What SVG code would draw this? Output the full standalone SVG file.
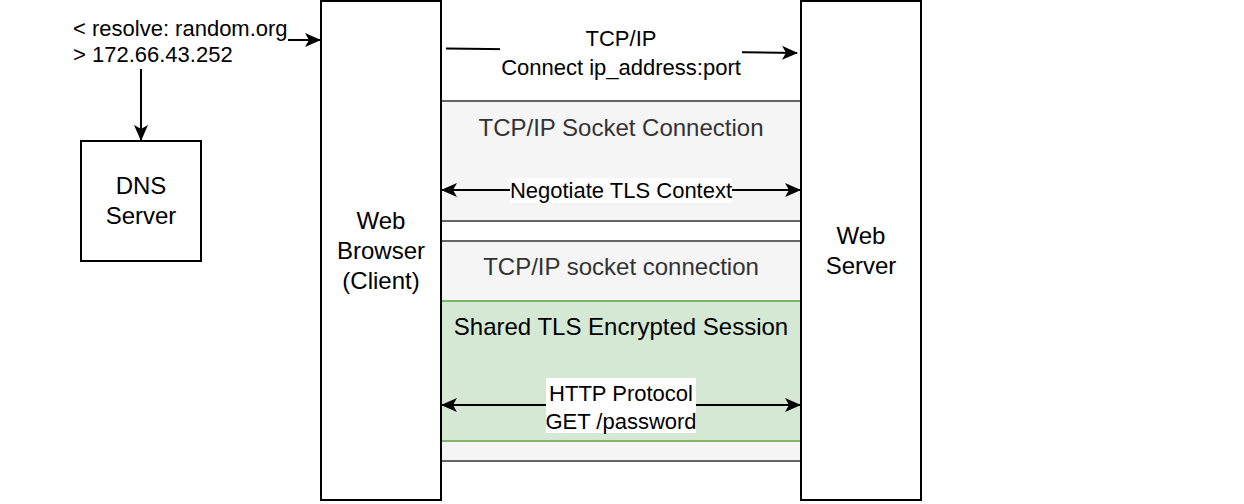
<svg xmlns="http://www.w3.org/2000/svg" width="1244" height="504" viewBox="0 0 1244 504">
<style>
.box{fill:#fff;stroke:#000;stroke-width:2}
.panel{fill:#f5f5f5;stroke:#666;stroke-width:2}
.green{fill:#d5e8d4;stroke:#82b366;stroke-width:2}
.t{font-family:"Liberation Sans",Arial,Helvetica,sans-serif;font-size:24px;fill:#000;text-anchor:middle}
.e{font-size:22px}
.g{fill:#333}
.conn{stroke:#000;stroke-width:2;fill:none}
.lbg{fill:#fff}
</style>
<defs>
<marker id="arr" markerUnits="userSpaceOnUse" markerWidth="16" markerHeight="14" refX="15" refY="7" orient="auto-start-reverse" viewBox="0 0 16 14">
<path d="M0,0 L16,7 L0,14 L4,7 Z" fill="#000"/>
</marker>
</defs>
<rect width="1244" height="504" fill="#fff"/>
<g id="socket-panel">
<rect class="panel" x="441" y="101" width="360" height="120"/>
<text class="t g" x="621" y="136">TCP/IP Socket Connection</text>
</g>
<g id="socket-panel-2">
<rect class="panel" x="441" y="241" width="360" height="220"/>
<text class="t g" x="621" y="275">TCP/IP socket connection</text>
</g>
<g id="tls-session">
<rect class="green" x="441" y="301" width="360" height="140"/>
<text class="t" x="621" y="335">Shared TLS Encrypted Session</text>
</g>
<g id="dns-server">
<rect class="box" x="81" y="141" width="120" height="120"/>
<text class="t" x="141" y="194">DNS</text>
<text class="t" x="141" y="224">Server</text>
</g>
<g id="web-browser">
<rect class="box" x="321" y="1" width="120" height="499"/>
<text class="t" x="381" y="229">Web</text>
<text class="t" x="381" y="259">Browser</text>
<text class="t" x="381" y="289">(Client)</text>
</g>
<g id="web-server">
<rect class="box" x="801" y="1" width="120" height="499"/>
<text class="t" x="861" y="244">Web</text>
<text class="t" x="861" y="274">Server</text>
</g>
<g id="connectors">
<line class="conn" x1="288" y1="40" x2="320" y2="40" marker-end="url(#arr)"/>
<line class="conn" x1="141" y1="69" x2="141" y2="140" marker-end="url(#arr)"/>
<line class="conn" x1="446" y1="48.5" x2="797" y2="53" marker-end="url(#arr)"/>
<line class="conn" x1="442" y1="190" x2="800" y2="190" marker-start="url(#arr)" marker-end="url(#arr)"/>
<line class="conn" x1="442" y1="405" x2="800" y2="405" marker-start="url(#arr)" marker-end="url(#arr)"/>
</g>
<g id="labels">
<text class="t e" x="73" y="35.5" style="text-anchor:start">&lt; resolve: random.org</text>
<text class="t e" x="73" y="62" style="text-anchor:start">&gt; 172.66.43.252</text>
<rect class="lbg" x="500" y="26" width="242" height="56"/>
<text class="t e" x="621" y="46">TCP/IP</text>
<text class="t e" x="621" y="74.5">Connect ip_address:port</text>
<rect class="lbg" x="510" y="178" width="222" height="25"/>
<text class="t e" x="621" y="198">Negotiate TLS Context</text>
<rect class="lbg" x="546" y="378" width="150" height="55"/>
<text class="t e" x="621" y="401">HTTP Protocol</text>
<text class="t e" x="621" y="429">GET /password</text>
</g>
</svg>
